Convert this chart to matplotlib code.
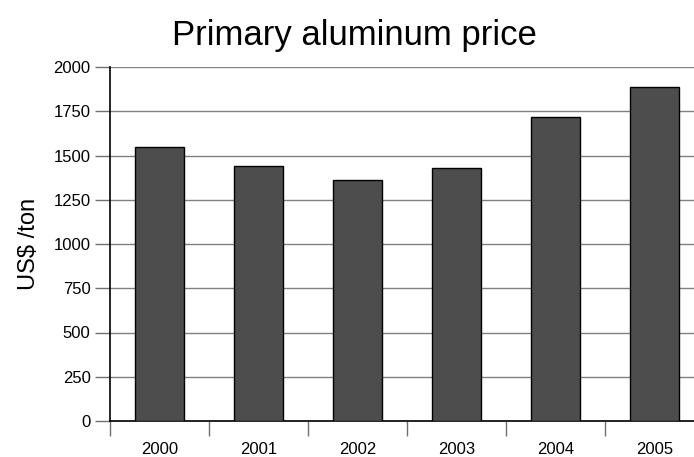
import matplotlib
matplotlib.use("Agg")
import matplotlib.pyplot as plt
import numpy as np

plt.rcParams['font.family'] = ['Liberation Sans', 'DejaVu Sans']

# data
years = ['2000', '2001', '2002', '2003', '2004', '2005']
price = [1549, 1441, 1364, 1432, 1719, 1889]
yticks = [0, 250, 500, 750, 1000, 1250, 1500, 1750, 2000]

fig = plt.figure(figsize=(6.94, 4.57), dpi=100)
# plot area runs a little past the right edge of the picture, as in the original
ax = fig.add_axes([110 / 694, 36 / 457, 594 / 694, 354 / 457])

x = np.arange(len(years))
ax.bar(x, price, width=0.505, color='#4d4d4d', edgecolor='black',
       linewidth=1.0, zorder=3)

ax.set_xlim(-0.5, len(years) - 0.5)
ax.set_ylim(0, 2000)
ax.set_yticks(yticks)
ax.set_yticklabels([str(v) for v in yticks], fontsize=12)

# categories labelled in the middle, ticks on the boundaries
ax.set_xticks(x)
ax.set_xticklabels(years, fontsize=12)
ax.tick_params(axis='x', which='major', length=0, pad=15)
ax.set_xticks(np.arange(len(years) + 1) - 0.5, minor=True)
ax.tick_params(axis='x', which='minor', length=11, width=1, color='#707070')
ax.tick_params(axis='y', length=11, width=1, color='#707070', pad=3)

ax.grid(axis='y', color='#808080', linewidth=1, zorder=0)
ax.set_axisbelow(True)

for s in ['top', 'right']:
    ax.spines[s].set_visible(False)
ax.spines['left'].set_linewidth(1.2)
ax.spines['bottom'].set_linewidth(1.2)

ax.set_ylabel('US$ /ton', fontsize=17, labelpad=10)
fig.text(0.511, 1 - 45 / 457, 'Primary aluminum price', ha='center',
         va='baseline', fontsize=25)

fig.savefig('out.png', dpi=100)
